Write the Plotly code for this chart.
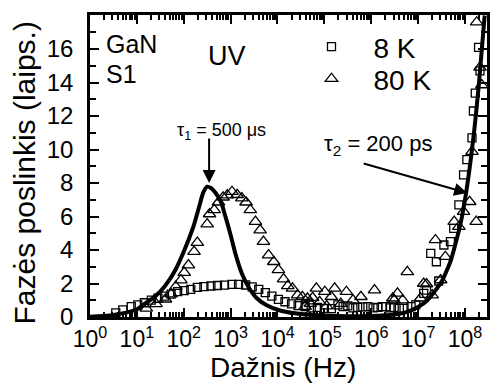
import numpy as np
import plotly.graph_objects as go

# ---------------- data (log10 of frequency in Hz, phase shift in degrees) ----------------
sq_logf = [0.55, 0.70, 0.88, 1.02, 1.16, 1.31, 1.45, 1.59, 1.73, 1.87, 2.01, 2.15, 2.29, 2.43,
           2.58, 2.72, 2.87, 3.03, 3.17, 3.32, 3.46, 3.60, 3.74, 3.88, 4.02, 4.16, 4.30, 4.44,
           4.59, 4.72, 4.85, 5.00, 5.15, 5.29, 5.40, 5.50, 5.61, 5.71, 5.82, 5.93, 6.04, 6.14,
           6.24, 6.31, 6.40, 6.49, 6.60, 6.70, 6.85, 6.95, 7.12, 7.18, 7.27, 7.39, 7.44, 7.55,
           7.69, 7.76, 7.87, 7.97, 8.04, 8.15, 8.18, 8.22, 8.29, 8.32]
sq_val = [0.25, 0.42, 0.62, 0.72, 0.85, 1.01, 1.12, 1.25, 1.37, 1.51, 1.57, 1.65, 1.77, 1.81,
          1.85, 1.88, 1.90, 1.95, 1.95, 1.91, 1.80, 1.65, 1.45, 1.25, 1.05, 0.91, 0.78, 0.68,
          0.62, 0.55, 0.58, 0.52, 0.50, 0.72, 0.62, 0.66, 0.55, 0.58, 0.60, 0.62, 0.55, 0.58,
          0.62, 0.62, 0.55, 0.58, 0.52, 0.52, 0.62, 0.72, 1.41, 1.61, 3.80, 3.30, 2.15, 4.30,
          4.50, 5.29, 6.69, 8.48, 9.40, 10.7, 12.3, 13.36, 16.1, 14.7]

tri_logf = [1.20, 1.41, 1.61, 1.73, 1.83, 1.94, 2.01, 2.10, 2.22, 2.29, 2.50, 2.55, 2.65, 2.74,
            2.84, 2.93, 3.03, 3.14, 3.24, 3.33, 3.42, 3.53, 3.63, 3.70, 3.81, 3.92, 4.02, 4.13,
            4.22, 4.32, 4.43, 4.53, 4.64, 4.59, 4.70, 4.75, 4.83, 4.90, 5.01, 5.05, 5.15, 5.22,
            5.35, 5.47, 5.61, 5.78, 6.07, 6.46, 6.49, 6.56, 6.67, 6.77, 7.05, 7.12, 7.18, 7.30,
            7.37, 7.48, 7.58, 7.77, 7.87, 7.97, 8.10, 8.15, 8.24, 8.25, 8.32, 8.36]
tri_val = [0.52, 0.78, 1.06, 1.37, 1.81, 2.20, 2.65, 3.10, 3.90, 4.44, 5.55, 6.15, 6.40, 6.85,
           7.15, 7.28, 7.48, 7.30, 7.10, 6.85, 6.39, 5.69, 5.19, 4.50, 3.70, 3.30, 2.81, 2.26,
           1.86, 1.71, 1.31, 1.21, 1.12, 0.62, 0.80, 1.15, 1.71, 0.90, 1.51, 0.65, 1.21, 1.71,
           0.80, 1.51, 1.01, 1.21, 1.61, 1.12, 1.01, 1.41, 1.01, 2.70, 1.12, 2.00, 1.97, 1.31,
           4.60, 2.21, 3.60, 5.69, 5.39, 6.29, 6.88, 9.87, 5.69, 17.6, 14.9, 13.85]

fit_logf = [0.0, 0.5, 1.0, 1.2, 1.4, 1.6, 1.8, 2.0, 2.2, 2.33, 2.42, 2.50, 2.58, 2.68, 2.79,
            2.89, 3.0, 3.1, 3.24, 3.39, 3.56, 3.77, 4.02, 4.37, 4.87, 5.5, 6.0, 6.4, 6.7, 7.0,
            7.2, 7.4, 7.5, 7.6, 7.7, 7.8, 7.9, 8.0, 8.1, 8.2, 8.3, 8.42]
fit_val = [0.02, 0.12, 0.46, 0.85, 1.25, 1.85, 2.7, 3.9, 5.35, 6.6, 7.45, 7.78, 7.7, 7.4, 6.9,
           5.99, 4.9, 3.8, 2.6, 1.75, 1.12, 0.70, 0.42, 0.22, 0.10, 0.05, 0.06, 0.12, 0.25, 0.6,
           1.0, 1.7, 2.1, 2.7, 3.4, 4.4, 5.5, 7.0, 8.9, 11.2, 14.0, 18.0]

x_tick_exps = [0, 1, 2, 3, 4, 5, 6, 7, 8]
y_tick_vals = [0, 2, 4, 6, 8, 10, 12, 14, 16]
series_names = ["8 K", "80 K"]

# ---------------- figure ----------------
W, H = 492, 383
L, R, T, B = 90, 2, 15, 66
PW, PH = W - L - R, H - T - B
FONT = "Liberation Sans, Arial, sans-serif"


def px2paper(px, py):
    return (px - L) / PW, (H - B - py) / PH


fig = go.Figure()
fig.add_trace(go.Scatter(
    x=[10 ** v for v in fit_logf], y=fit_val, mode="lines",
    line=dict(color="black", width=4, shape="spline", smoothing=0.8),
    showlegend=False, hoverinfo="skip"))
fig.add_trace(go.Scatter(
    x=[10 ** v for v in sq_logf], y=sq_val, mode="markers", name=series_names[0],
    legend="legend",
    marker=dict(symbol="square-open", size=8, color="black", line=dict(width=1.3))))
fig.add_trace(go.Scatter(
    x=[10 ** v for v in tri_logf], y=tri_val, mode="markers", name=series_names[1],
    legend="legend2",
    marker=dict(symbol="triangle-up-open", size=11, color="black", line=dict(width=1.3))))

minor_x = [m * 10 ** e for e in range(0, 9) for m in range(2, 10)]

axis_common = dict(showline=True, linecolor="black", linewidth=2.5, mirror="allticks",
                   ticks="inside", tickcolor="black", tickwidth=2, ticklen=9,
                   showgrid=False, zeroline=False)

fig.update_xaxes(type="log", range=[0, 8.47],
                 tickvals=[10 ** e for e in x_tick_exps],
                 ticktext=[f"10<sup>{e}</sup>" for e in x_tick_exps],
                 tickfont=dict(family=FONT, size=23, color="black"),
                 minor=dict(tickvals=minor_x, ticks="inside", ticklen=5, tickwidth=1.5,
                            tickcolor="black", showgrid=False),
                 ticklabelstandoff=0,
                 **axis_common)
fig.update_yaxes(range=[0, 18.03], tickvals=y_tick_vals,
                 tickfont=dict(family=FONT, size=24, color="black"),
                 minor=dict(tickvals=list(range(1, 18, 2)), ticks="inside", ticklen=6,
                            tickwidth=2, tickcolor="black", showgrid=False),
                 ticklabelstandoff=9,
                 **axis_common)

ann = []


def text_at(px, py, text, size, xanchor="center", **kw):
    xp, yp = px2paper(px, py)
    ann.append(dict(x=xp, y=yp, xref="paper", yref="paper", text=text, showarrow=False,
                    xanchor=xanchor, yanchor="middle",
                    font=dict(family=FONT, size=size, color="black"), **kw))


text_at(24, 173, "Fazės poslinkis (laips.)", 30, textangle=-90)
text_at(284, 367, "Dažnis (Hz)", 28)
text_at(104, 44, "GaN", 25, xanchor="left")
text_at(104, 74, "S1", 25, xanchor="left")
text_at(228, 56, "UV", 27)
text_at(222, 131, "τ<sub>1</sub> = 500 μs", 18)
text_at(380, 145, "τ<sub>2</sub> = 200 ps", 22)

# arrows (tips given in axis units: log10 for the log x axis)
ann.append(dict(x=(210 - L) / PW * 8.47, y=(H - B - 183) / PH * 18.03, xref="x", yref="y",
                text="", showarrow=True, ax=0, ay=-46, arrowhead=2, arrowsize=1.3,
                arrowwidth=2, arrowcolor="black"))
ann.append(dict(x=(470 - L) / PW * 8.47, y=(H - B - 193) / PH * 18.03, xref="x", yref="y",
                text="", showarrow=True, ax=-105, ay=-30, arrowhead=2, arrowsize=1.3,
                arrowwidth=2, arrowcolor="black"))

leg_common = dict(xanchor="left", yanchor="middle", bgcolor="rgba(0,0,0,0)",
                  font=dict(family=FONT, size=28, color="black"), itemwidth=74)

fig.update_layout(
    width=W, height=H, margin=dict(l=L, r=R, t=T, b=B),
    paper_bgcolor="white", plot_bgcolor="white",
    font=dict(family=FONT, color="black"),
    legend=dict(x=px2paper(291, 0)[0], y=px2paper(0, 47)[1], **leg_common),
    legend2=dict(x=px2paper(291, 0)[0], y=px2paper(0, 79)[1], **leg_common),
    annotations=ann,
)

fig.write_html("out.html")
